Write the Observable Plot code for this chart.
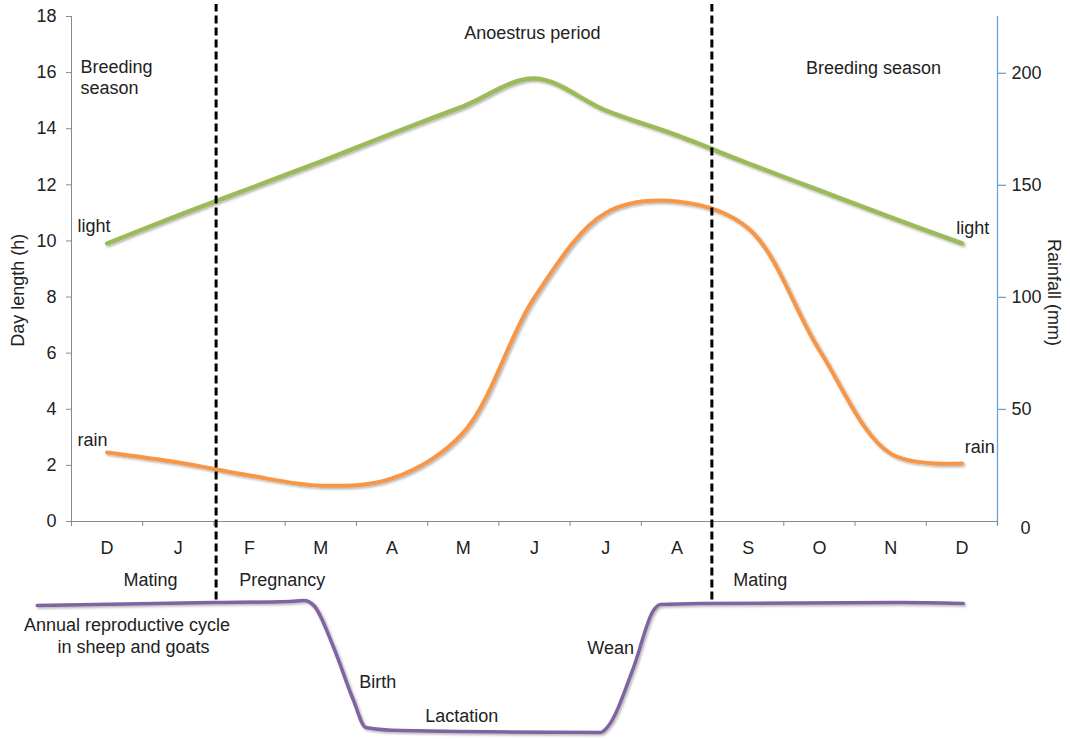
<!DOCTYPE html>
<html><head><meta charset="utf-8">
<script src="https://cdn.jsdelivr.net/npm/d3@7"></script>
<script src="https://cdn.jsdelivr.net/npm/@observablehq/plot@0.6"></script>
<style>body{margin:0;background:#fff} #chart svg{display:block}</style>
</head><body><div id="chart"></div>
<script>
// Months (band centres at i + 0.5 on a 0..13 axis)
const months = ["D","J","F","M","A","M","J","J","A","S","O","N","D"];
// Day length (h)
const dayLength = [9.91, 10.91, 11.87, 12.83, 13.83, 14.8, 15.79, 14.65, 13.76, 12.76, 11.8, 10.84, 9.91];
const rainfall = [30.8, 26.3, 20.5, 16.0, 19.2, 39.7, 100, 137.7, 142.8, 130.8, 76.4, 30.3, 25.9];
// Left and right tick values
const hourTicks = [0, 2, 4, 6, 8, 10, 12, 14, 16, 18];
const rainTicks = [0, 50, 100, 150, 200];
const rainToHours = 0.07988;
// Annual reproductive cycle trace (month position, level below the axis)
const cycleX = [-0.48, 1.99, 3.07, 3.26, 3.40, 3.68, 3.96, 4.13, 4.62, 7.43, 7.52, 7.89, 8.17, 8.27, 8.83, 11.60, 12.52];
const cycleY = [-2.99, -2.89, -2.85, -2.82, -2.99, -4.49, -6.38, -7.34, -7.45, -7.52, -7.34, -5.21, -3.17, -2.96, -2.92, -2.89, -2.92];
// Breeding-season boundaries (month position)
const seasonBounds = [2.03, 8.99];
// Annotations
const startLabels = [
  {text: "Breeding", x: 0.126, y: 16.19},
  {text: "season", x: 0.126, y: 15.44},
  {text: "light", x: 0.084, y: 10.52},
  {text: "light", x: 12.42, y: 10.45},
  {text: "rain", x: 0.084, y: 2.89},
  {text: "rain", x: 12.54, y: 2.64},
  {text: "Birth", x: 4.04, y: -5.74}
];
const middleLabels = [
  {text: "Anoestrus period", x: 6.47, y: 17.40},
  {text: "Breeding season", x: 11.26, y: 16.15},
  {text: "Mating", x: 1.11, y: -2.10},
  {text: "Pregnancy", x: 2.96, y: -2.10},
  {text: "Mating", x: 9.67, y: -2.10},
  {text: "Annual reproductive cycle", x: 0.78, y: -3.71},
  {text: "in sheep and goats", x: 0.87, y: -4.49},
  {text: "Lactation", x: 5.48, y: -6.95},
  {text: "Wean", x: 7.57, y: -4.53}
];

const FS = 18;
const chart = Plot.plot({
  width: 1070, height: 739,
  marginLeft: 71, marginRight: 73, marginTop: 16, marginBottom: 218,
  x: {domain: [0, 13]},
  y: {domain: [0, 18]},
  style: {fontFamily: "'Liberation Sans', Arial, sans-serif", fontSize: FS + "px", color: "#222", background: "#fff", overflow: "visible"},
  marks: [
    // axis lines
    Plot.ruleY([0], {x1: 0, x2: 13, stroke: "#8a8a8a"}),
    Plot.ruleX([0], {y1: 0, y2: 18, stroke: "#8a8a8a"}),
    Plot.ruleX([13], {y1: -0.15, y2: 18, stroke: "#6f9fd8", strokeWidth: 1.3}),
    // left axis
    Plot.axisY(hourTicks, {anchor: "left", tickSize: 5, tickPadding: 10, stroke: "#8a8a8a", fill: "#222", fontSize: FS, label: null}),
    // right axis (rainfall)
    Plot.axisY(rainTicks.filter(d => d > 0).map(d => d * rainToHours), {anchor: "right", tickSize: 8, tickPadding: 6, stroke: "#6f9fd8", strokeWidth: 1.3, fill: "#222", fontSize: FS, label: null, tickFormat: d => String(Math.round(d / rainToHours))}),
    Plot.text([0], {x: 13, y: d => d * rainToHours, text: d => String(d), dx: 23, dy: 7, textAnchor: "start", fill: "#222", fontSize: FS}),
    // x axis: band-edge ticks and month labels
    Plot.axisX(d3.range(0, 14), {anchor: "bottom", tickSize: 5, tickFormat: () => "", stroke: "#8a8a8a", label: null}),
    Plot.axisX(months.map((m, i) => i + 0.5), {anchor: "bottom", tickSize: 0, tickPadding: 20, tickFormat: d => months[Math.floor(d)], fill: "#222", fontSize: FS, label: null}),
    // axis titles
    Plot.text(["Day length (h)"], {x: -0.744, y: 8.24, text: d => d, rotate: -90, fill: "#222", fontSize: FS}),
    Plot.text(["Rainfall (mm)"], {x: 13.79, y: 8.16, text: d => d, rotate: 90, fill: "#222", fontSize: FS}),
    // data curves
    Plot.line(dayLength, {x: (d, i) => i + 0.5, y: d => d, stroke: "#9bbb59", strokeWidth: 4.5, curve: "catmull-rom"}),
    Plot.line(rainfall, {x: (d, i) => i + 0.5, y: d => d * rainToHours, stroke: "#f79646", strokeWidth: 4, curve: "catmull-rom"}),
    Plot.line(cycleY, {x: (d, i) => cycleX[i], y: d => d, stroke: "#8064a2", strokeWidth: 3.5, curve: "monotone-x"}),
    // season boundaries
    Plot.ruleX(seasonBounds, {y1: -2.8, y2: 18.43, stroke: "#000", strokeWidth: 3, strokeDasharray: "8,4"}),
    // annotations
    Plot.text(startLabels, {x: "x", y: "y", text: "text", textAnchor: "start", fill: "#222", fontSize: FS}),
    Plot.text(middleLabels, {x: "x", y: "y", text: "text", textAnchor: "middle", fill: "#222", fontSize: FS})
  ]
});
// soft drop shadow on the curves, as in the original
const svg = d3.select(chart);
const defs = svg.insert("defs", ":first-child");
defs.append("filter").attr("id", "curveShadow").attr("x", "-5%").attr("y", "-5%").attr("width", "110%").attr("height", "120%")
  .append("feDropShadow").attr("dx", 1.5).attr("dy", 1.5).attr("stdDeviation", 1.2)
  .attr("flood-color", "#000").attr("flood-opacity", 0.3);
svg.selectAll("g[aria-label='line']").attr("filter", "url(#curveShadow)");
document.getElementById("chart").appendChild(chart);
</script>
</body></html>
